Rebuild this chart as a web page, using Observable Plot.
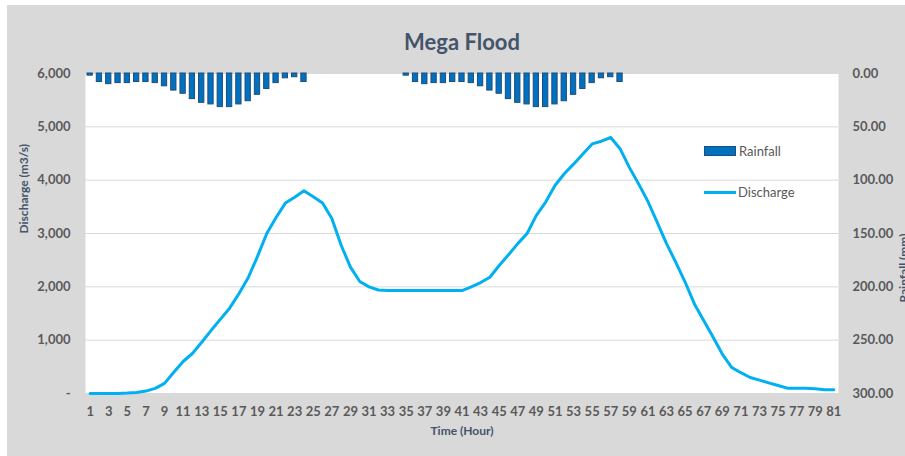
<!DOCTYPE html>
<html>
<head>
<meta charset="utf-8">
<script src="https://cdn.jsdelivr.net/npm/d3@7"></script>
<script src="https://cdn.jsdelivr.net/npm/@observablehq/plot@0.6"></script>
<style>
  html, body { margin: 0; padding: 0; background: #ffffff; }
  #wrap { position: relative; width: 905px; height: 456px; overflow: hidden; }
  #bg { position: absolute; left: 7px; top: 5px; width: 898px; height: 451px; background: #D9D9D9; }
  #chart { position: absolute; left: 0; top: 0; }
  .legend { position: absolute; font-family: Lato, sans-serif; font-size: 13px; color: #595959; }
  .legend .item { position: absolute; white-space: nowrap; display: flex; align-items: center; }
  .legend .swatch { width: 30px; height: 8px; background: #0070C0; border: 1px solid #1F4E79; margin-right: 3px; }
  .legend .lineSw { width: 32px; height: 3px; background: #00B0F0; margin-right: 2px; }
</style>
</head>
<body>
<div id="wrap">
  <div id="bg"></div>
  <div id="chart"></div>
  <div class="legend">
    <div class="item" style="left:704px; top:143px;"><span class="swatch"></span><span>Rainfall</span></div>
    <div class="item" style="left:704px; top:184px;"><span class="lineSw"></span><span>Discharge</span></div>
  </div>
</div>
<script>
// Categories: hours
const hours = [1,2,3,4,5,6,7,8,9,10,11,12,13,14,15,16,17,18,19,20,21,22,23,24,25,26,27,28,29,30,
  31,32,33,34,35,36,37,38,39,40,41,42,43,44,45,46,47,48,49,50,51,52,53,54,55,56,57,58,59,60,
  61,62,63,64,65,66,67,68,69,70,71,72,73,74,75,76,77,78,79,80,81];

// Discharge (m3/s) per hour
const discharge = [0,0,0,0,8,20,45,95,190,400,600,750,960,1180,1390,1600,1870,2170,2570,3000,
  3300,3570,3680,3800,3690,3570,3280,2780,2370,2100,2000,1940,1930,1930,1930,1930,1930,1930,1930,1930,
  1930,2000,2080,2180,2400,2600,2810,3000,3340,3590,3900,4120,4300,4490,4680,4730,4800,4590,4240,3930,
  3600,3210,2810,2460,2090,1680,1370,1060,740,490,390,300,250,200,150,100,100,100,90,70,70];

// Rainfall (mm) per hour (null = no bar)
const rainfall = [2,8,10,9,9,8,8,9,12,16,19,24,27.5,29,31.5,31.5,29,26,20,14.5,9,4.5,3.5,8,
  null,null,null,null,null,null,null,null,null,null,
  2,8,10,9,9,8,8,9,12,16,19,24,27.5,29,31.5,31.5,29,26,20,14.5,9,4.5,3.5,8,
  null,null,null,null,null,null,null,null,null,null,null,null,null,null,null,null,null,null,null,null,null,null,null];

// Axis ticks
const dischargeTicks = [0,1000,2000,3000,4000,5000,6000];
const hourTicks = [1,3,5,7,9,11,13,15,17,19,21,23,25,27,29,31,33,35,37,39,41,43,45,47,49,51,53,55,57,59,
  61,63,65,67,69,71,73,75,77,79,81];
const dischargeMax = 6000;
const rainMax = 300;

const qData = hours.map((h, i) => ({hour: h, q: discharge[i]}));
const rData = hours.map((h, i) => ({hour: h, rain: rainfall[i]})).filter(d => d.rain != null);

// rainfall axis is reversed and mapped onto the discharge scale
const rainToY = r => dischargeMax - r * (dischargeMax / rainMax);

const textColor = "#595959";
const titleColor = "#44546A";

const chart = Plot.plot({
  width: 905,
  height: 456,
  marginLeft: 85,
  marginRight: 67,
  marginTop: 73,
  marginBottom: 63,
  style: {background: "transparent", fontFamily: "Lato, sans-serif", overflow: "visible"},
  x: {domain: [0.5, 81.5]},
  y: {domain: [0, dischargeMax]},
  marks: [
    Plot.frame({fill: "white", stroke: null}),
    Plot.gridY({ticks: dischargeTicks, stroke: "#D9D9D9", strokeOpacity: 1}),
    Plot.rectY(rData, {
      x1: d => d.hour - 0.5, x2: d => d.hour + 0.5,
      y1: d => rainToY(0), y2: d => rainToY(d.rain),
      insetLeft: 2, insetRight: 2,
      fill: "#0070C0", stroke: "#1F4E79", strokeWidth: 1
    }),
    Plot.line(qData, {x: "hour", y: "q", stroke: "#00B0F0", strokeWidth: 3, strokeLinejoin: "round"}),
    Plot.axisY({anchor: "left", ticks: dischargeTicks, tickSize: 0, tickPadding: 15,
      tickFormat: d => d === 0 ? "-" : d3.format(",")(d), label: null,
      fontSize: 13, fontWeight: "bold", fill: textColor}),
    Plot.axisY({anchor: "right", ticks: dischargeTicks, tickSize: 0, tickPadding: 14,
      tickFormat: d => ((dischargeMax - d) * rainMax / dischargeMax).toFixed(2), label: null,
      fontSize: 13, fontWeight: "bold", fill: textColor}),
    Plot.axisX({ticks: hourTicks, tickSize: 0, tickPadding: 13, tickFormat: d => String(d), label: null,
      fontSize: 13, fontWeight: "bold", fill: textColor}),
    Plot.text(["Mega Flood"], {frameAnchor: "top", dy: -39, fontSize: 22, fontWeight: "bold", fill: titleColor}),
    Plot.text(["Time (Hour)"], {frameAnchor: "bottom", dy: 41, fontSize: 12, fontWeight: "bold", fill: titleColor}),
    Plot.text(["Discharge (m3/s)"], {frameAnchor: "left", dx: -61, rotate: -90, fontSize: 12, fontWeight: "bold", fill: titleColor}),
    Plot.text(["Rainfall (mm)"], {frameAnchor: "right", dx: 66, rotate: -90, fontSize: 12, fontWeight: "bold", fill: titleColor})
  ]
});
document.getElementById("chart").appendChild(chart);
</script>
</body>
</html>
